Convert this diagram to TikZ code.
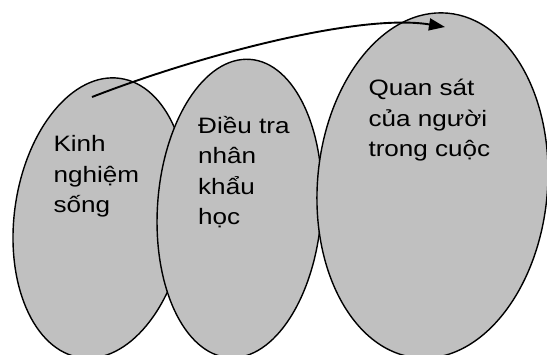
\documentclass[tikz,border=0pt]{standalone}
\usepackage{fontspec}
\newfontfamily\lab{Liberation Sans}
\usetikzlibrary{shapes.geometric,arrows.meta}
\definecolor{silver}{RGB}{192,192,192}
% several lines stacked, baseline at the first one, set a little wide
\newcommand{\stack}[1]{\scalebox{1.17}[1]{\vtop{\baselineskip=30.5pt\lineskiplimit=-20pt #1}}}
\tikzset{
  blob/.style={ellipse, draw=black, fill=silver, line width=1.4pt, inner sep=0pt},
  caption/.style={anchor=base west, inner sep=0pt, font=\lab\fontsize{22.3pt}{30.5pt}\selectfont},
  flow/.style={line width=1.9pt, -{Triangle[length=16pt,width=12pt]}}
}
\begin{document}
\begin{tikzpicture}[x=1pt,y=-1pt]
  \useasboundingbox (0,0) rectangle (547,354);
  % three overlapping ellipses, back to front
  \node[blob, minimum width=172pt, minimum height=282pt, rotate=-8] (e1) at (100.4,218) {};
  \node[blob, minimum width=164pt, minimum height=299pt, rotate=-4] (e2) at (239.5,208.5) {};
  \node[blob, minimum width=230pt, minimum height=346pt, rotate=-5] (e3) at (432.5,185.5) {};
  % captions
  \node[caption] (t1) at (53.3,151.7) {\stack{\hbox{Kinh}\hbox{nghiệm}\hbox{sống}}};
  \node[caption] (t2) at (198,133.3) {\stack{\hbox{Điều tra}\hbox{nhân}\hbox{khẩu}\hbox{học}}};
  \node[caption] (t3) at (368.3,95.7) {\stack{\hbox{Quan sát}\hbox{của người}\hbox{trong cuộc}}};
  % arrow from the first ellipse into the last one
  \coordinate (from) at (92,97);
  \coordinate (to) at (445,27);
  \draw[flow] (from) .. controls (200,55) and (360,13) .. (to);
\end{tikzpicture}
\end{document}
